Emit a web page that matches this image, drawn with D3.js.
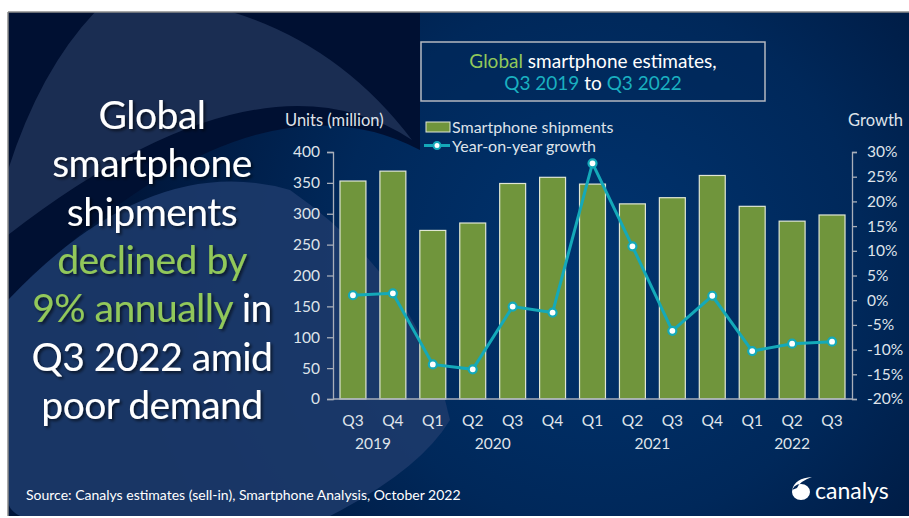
<!DOCTYPE html>
<html><head><meta charset="utf-8">
<script src="https://cdn.jsdelivr.net/npm/d3@7"></script>
<style>
html,body{margin:0;padding:0;background:#fff;}
svg{display:block;font-family:Lato,"Open Sans",sans-serif;}
</style></head>
<body>
<script>
const quarters = ["Q3","Q4","Q1","Q2","Q3","Q4","Q1","Q2","Q3","Q4","Q1","Q2","Q3"];
const years = ["2019","2019","2020","2020","2020","2020","2021","2021","2021","2021","2022","2022","2022"];
const shipments = [353, 369, 273, 285, 349, 359, 348, 316, 326, 362, 312, 288, 298];
const growth = [1.0, 1.4, -13.0, -14.0, -1.3, -2.5, 27.7, 10.9, -6.2, 0.9, -10.3, -8.8, -8.4];
const leftTicks = [0, 50, 100, 150, 200, 250, 300, 350, 400];
const rightTicks = [-20, -15, -10, -5, 0, 5, 10, 15, 20, 25, 30];
const yearLabels = ["2019", "2020", "2021", "2022"];

const W = 909, H = 518;
const svg = d3.select("body").append("svg").attr("width", W).attr("height", H);
const defs = svg.append("defs");

const rg = defs.append("radialGradient").attr("id","bg").attr("gradientUnits","userSpaceOnUse")
  .attr("cx",600).attr("cy",260).attr("r",480);
rg.append("stop").attr("offset","0").attr("stop-color","#003470");
rg.append("stop").attr("offset","0.55").attr("stop-color","#00285a");
rg.append("stop").attr("offset","1").attr("stop-color","#00163a");

const sh = defs.append("filter").attr("id","shadow").attr("x","-10%").attr("y","-10%").attr("width","130%").attr("height","130%");
sh.append("feDropShadow").attr("dx",2).attr("dy",2).attr("stdDeviation",1.5).attr("flood-color","#000").attr("flood-opacity",0.6);

// panel
const px0 = 8, py0 = 12, px1 = 909, py1 = 516;
svg.append("rect").attr("x",px0).attr("y",py0).attr("width",px1-px0).attr("height",py1-py0).attr("fill","url(#bg)");
svg.append("clipPath").attr("id","pclip").append("rect").attr("x",px0).attr("y",py0).attr("width",px1-px0).attr("height",py1-py0);
const deco = svg.append("g").attr("clip-path","url(#pclip)");
deco.append("path").attr("d","M8,12 L420,12 L420,150 Q250,60 8,300 Z").attr("fill","#001032");
deco.append("path").attr("d","M95,12 L232,12 Q340,45 412,140 Q260,40 8,235 L8,170 Q40,70 95,12 Z").attr("fill","#1a2d52");
deco.append("path").attr("d","M8,300 Q150,150 290,190 Q420,280 450,420 Q420,470 330,516 L20,516 Q8,510 8,500 Z").attr("fill","#1c3a6a").attr("opacity",0.9);
svg.append("line").attr("x1",px0).attr("x2",px1).attr("y1",py0).attr("y2",py0).attr("stroke","#8c8c8c").attr("stroke-width",1.5);
svg.append("line").attr("x1",px0).attr("x2",px0).attr("y1",py0).attr("y2",py1).attr("stroke","#8c8c8c").attr("stroke-width",1.5);

// headline
const green = "#92c85a", white = "#ffffff";
const headLines = [
  [["Global", white]],
  [["smartphone", white]],
  [["shipments", white]],
  [["declined by", green]],
  [["9% annually", green], [" in", white]],
  [["Q3 2022 amid", white]],
  [["poor demand", white]]
];
const hg = svg.append("g").attr("filter","url(#shadow)");
headLines.forEach((segs, i) => {
  const t = hg.append("text").attr("x",152).attr("y",129 + i*48.3).attr("text-anchor","middle")
    .attr("font-size",39).attr("letter-spacing",-0.5);
  segs.forEach(s => t.append("tspan").attr("fill", s[1]).text(s[0]));
});

// title box
svg.append("rect").attr("x",421).attr("y",42).attr("width",344).attr("height",59)
  .attr("fill","#00275a").attr("fill-opacity",0.5).attr("stroke","#b4b8c0").attr("stroke-width",1.5);
const teal = "#1ab0c0";
const t1 = svg.append("text").attr("x",593).attr("y",68).attr("text-anchor","middle").attr("font-size",19);
t1.append("tspan").attr("fill",green).text("Global");
t1.append("tspan").attr("fill",white).text(" smartphone estimates,");
const t2 = svg.append("text").attr("x",593).attr("y",90).attr("text-anchor","middle").attr("font-size",19);
t2.append("tspan").attr("fill",teal).text("Q3 2019");
t2.append("tspan").attr("fill",white).text(" to ");
t2.append("tspan").attr("fill",teal).text("Q3 2022");

// scales
const x0 = 333, x1 = 852, yTop = 152, yBot = 399;
const x = d3.scaleBand().domain(d3.range(quarters.length)).range([x0, x1]).paddingInner(0.35).paddingOuter(0.175);
const yL = d3.scaleLinear().domain([0, 400]).range([yBot, yTop]);
const yR = d3.scaleLinear().domain([-20, 30]).range([yBot, yTop]);

const axisCol = "#a9afba", tickText = "#dfe3ea";

svg.append("g").selectAll("rect").data(shipments).join("rect")
  .attr("x",(d,i)=>x(i)).attr("y",d=>yL(d)).attr("width",x.bandwidth()).attr("height",d=>yBot-yL(d))
  .attr("fill","#70953c").attr("stroke","#dfe6d4").attr("stroke-width",1.2);

const gl = svg.append("g").attr("transform",`translate(${x0},0)`)
  .call(d3.axisLeft(yL).tickValues(leftTicks).tickSize(6).tickPadding(7));
gl.select(".domain").attr("stroke",axisCol).attr("stroke-width",1.3);
gl.selectAll(".tick line").attr("stroke",axisCol).attr("stroke-width",1.3);
gl.selectAll(".tick text").attr("fill",tickText).attr("font-size",15.5).attr("font-family","Lato");

const gr = svg.append("g").attr("transform",`translate(${x1},0)`)
  .call(d3.axisRight(yR).tickValues(rightTicks).tickSize(5).tickPadding(10).tickFormat(d=>d+"%"));
gr.select(".domain").attr("stroke",axisCol).attr("stroke-width",1.3);
gr.selectAll(".tick line").attr("stroke",axisCol).attr("stroke-width",1.3);
gr.selectAll(".tick text").attr("fill",tickText).attr("font-size",15.5).attr("font-family","Lato");

svg.append("line").attr("x1",x0).attr("x2",x1).attr("y1",yBot).attr("y2",yBot).attr("stroke",axisCol).attr("stroke-width",1.3);

svg.append("g").selectAll("text").data(quarters).join("text")
  .attr("x",(d,i)=>x(i)+x.bandwidth()/2).attr("y",426).attr("text-anchor","middle")
  .attr("font-size",15.5).attr("fill",tickText).text(d=>d);
const yearPos = yearLabels.map(yr => {
  const idx = years.map((v,i)=>v===yr?i:-1).filter(i=>i>=0);
  return [yr, (x(idx[0]) + x(idx[idx.length-1]) + x.bandwidth())/2];
});
svg.append("g").selectAll("text").data(yearPos).join("text")
  .attr("x",d=>d[1]).attr("y",449).attr("text-anchor","middle")
  .attr("font-size",15.5).attr("fill",tickText).text(d=>d[0]);

const lineCol = "#14a9b9";
const line = d3.line().x((d,i)=>x(i)+x.bandwidth()/2).y(d=>yR(d));
svg.append("path").datum(growth).attr("d",line).attr("fill","none").attr("stroke",lineCol).attr("stroke-width",3);
svg.append("g").selectAll("circle").data(growth).join("circle")
  .attr("cx",(d,i)=>x(i)+x.bandwidth()/2).attr("cy",d=>yR(d)).attr("r",4)
  .attr("fill","#ffffff").attr("stroke",lineCol).attr("stroke-width",2.2);

svg.append("text").attr("x",285).attr("y",126).attr("font-size",16.5).attr("fill",tickText).text("Units (million)");
svg.append("text").attr("x",903).attr("y",126).attr("text-anchor","end").attr("font-size",16.5).attr("fill",tickText).text("Growth");

svg.append("rect").attr("x",426).attr("y",122).attr("width",24).attr("height",10).attr("fill","#70953c").attr("stroke","#dfe6d4").attr("stroke-width",1);
svg.append("text").attr("x",452).attr("y",132.5).attr("font-size",16).attr("fill",tickText).text("Smartphone shipments");
svg.append("line").attr("x1",424).attr("x2",450).attr("y1",145.5).attr("y2",145.5).attr("stroke",lineCol).attr("stroke-width",3);
svg.append("circle").attr("cx",437).attr("cy",145.5).attr("r",3.5).attr("fill","#fff").attr("stroke",lineCol).attr("stroke-width",2);
svg.append("text").attr("x",452).attr("y",151.5).attr("font-size",16).attr("fill",tickText).text("Year-on-year growth");

svg.append("text").attr("x",26).attr("y",500).attr("font-size",14).attr("fill","#ffffff")
  .text("Source: Canalys estimates (sell-in), Smartphone Analysis, October 2022");

svg.append("path").attr("d","M792,492 A9,8 0 1,0 810,492 A9,8 0 1,0 792,492 Z M792,490 Q795,478 812,477 Q800,481 797,488 Z").attr("fill","#fff");
svg.append("text").attr("x",815).attr("y",499).attr("font-size",23).attr("fill","#fff").text("canalys");
</script>
</body></html>
